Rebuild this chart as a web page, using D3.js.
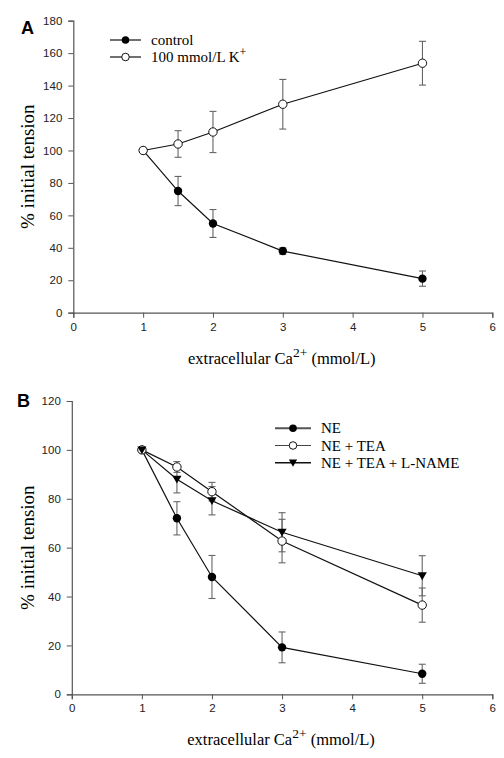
<!DOCTYPE html>
<html><head><meta charset="utf-8">
<script src="https://cdn.jsdelivr.net/npm/d3@7"></script>
<style>body{margin:0;background:#fff}svg{display:block}</style>
</head><body>
<svg id="c" width="504" height="758"></svg>
<script>
// Panel A data
const xA = [1, 1.5, 2, 3, 5];
const controlA = [100, 75, 55, 38, 21];
const controlErrA = [0, 9, 8.6, 2, 4.7];
const kA = [100, 104, 111.4, 128.5, 153.8];
const kErrA = [0, 8.2, 12.7, 15.3, 13.5];
// Panel B data
const xB = [1, 1.5, 2, 3, 5];
const neB = [100, 72, 48, 19.2, 8.4];
const neErrB = [0, 6.8, 8.8, 6.3, 3.9];
const teaB = [100, 93, 82.9, 62.7, 36.5];
const teaErrB = [0, 2.2, 3.8, 8.9, 7];
const lnameB = [100, 88, 79.2, 66.3, 48.5];
const lnameErrB = [0, 5.6, 5.8, 8, 8.2];
const xTicks = [0, 1, 2, 3, 4, 5, 6];
const yTicksA = [0, 20, 40, 60, 80, 100, 120, 140, 160, 180];
const yTicksB = [0, 20, 40, 60, 80, 100, 120];

const svg = d3.select("#c");
const AXC = "#555";

function panel(cfg) {
  const g = svg.append("g");
  const x = d3.scaleLinear().domain([0, 6]).range([cfg.x0, cfg.x1]);
  const y = d3.scaleLinear().domain([0, cfg.ymax]).range([cfg.y0, cfg.y1]);
  const xa = g.append("g").attr("transform", `translate(0,${cfg.y0})`)
    .call(d3.axisBottom(x).tickValues(xTicks).tickSize(5).tickPadding(5).tickFormat(d3.format("d")));
  const ya = g.append("g").attr("transform", `translate(${cfg.x0},0)`)
    .call(d3.axisLeft(y).tickValues(cfg.yTicks).tickSize(5).tickPadding(6).tickFormat(d3.format("d")));
  [xa, ya].forEach(a => {
    a.selectAll("path").attr("stroke", AXC).attr("stroke-width", 1.2);
    a.selectAll("line").attr("stroke", AXC);
    a.selectAll("text").attr("fill", "#222").style("font-family", "Liberation Sans, Arial, sans-serif").style("font-size", "11.5px");
  });
  // panel letter
  g.append("text").attr("x", cfg.lx).attr("y", cfg.ly).text(cfg.letter)
    .style("font-family", "Liberation Sans, Arial, sans-serif").style("font-weight", "bold").style("font-size", "18px");
  // y title
  g.append("text").attr("transform", `translate(34,${(cfg.y0 + cfg.y1) / 2}) rotate(-90)`)
    .attr("text-anchor", "middle").style("font-family", "Liberation Serif, Times New Roman, serif").style("font-size", "19px")
    .text("% initial tension");
  // x title
  const t = g.append("text").attr("x", (cfg.x0 + cfg.x1) / 2 - 1).attr("y", cfg.y0 + 51).attr("text-anchor", "middle")
    .style("font-family", "Liberation Serif, Times New Roman, serif").style("font-size", "16.5px");
  t.append("tspan").text("extracellular Ca");
  t.append("tspan").attr("dy", -7).style("font-size", "13.5px").text("2+");
  t.append("tspan").attr("dy", 7).text(" (mmol/L)");

  const line = d3.line().x(d => x(d[0])).y(d => y(d[1]));
  cfg.series.forEach(s => {
    const pts = s.xs.map((v, i) => [v, s.ys[i], s.errs[i]]);
    // error bars
    const eb = g.append("g").attr("stroke", "#666").attr("stroke-width", 1.1);
    pts.filter(p => p[2] > 0).forEach(p => {
      eb.append("line").attr("x1", x(p[0])).attr("x2", x(p[0])).attr("y1", y(p[1] - p[2])).attr("y2", y(p[1] + p[2]));
      [p[1] - p[2], p[1] + p[2]].forEach(v => eb.append("line").attr("x1", x(p[0]) - 3.5).attr("x2", x(p[0]) + 3.5).attr("y1", y(v)).attr("y2", y(v)));
    });
    g.append("path").datum(pts).attr("d", line).attr("fill", "none").attr("stroke", "#111").attr("stroke-width", 1.2);
  });
  cfg.series.forEach(s => {
    const pts = s.xs.map((v, i) => [v, s.ys[i]]);
    drawMarkers(g, pts.map(p => [x(p[0]), y(p[1])]), s.marker);
  });
  // legend
  cfg.series.forEach((s, i) => {
    const ly = cfg.legY + i * cfg.legDy;
    g.append("line").attr("x1", cfg.legX).attr("x2", cfg.legX + cfg.legW).attr("y1", ly).attr("y2", ly)
      .attr("stroke", s.legStroke || "#111").attr("stroke-width", s.legWidth || 1.2);
    drawMarkers(g, [[cfg.legX + cfg.legW / 2, ly]], s.marker, 0.9);
    const lt = g.append("text").attr("x", cfg.legX + cfg.legW + 10).attr("y", ly + 5)
      .style("font-family", "Liberation Serif, Times New Roman, serif").style("font-size", "15px");
    if (s.sup) {
      lt.append("tspan").text(s.name);
      lt.append("tspan").attr("dy", -6).style("font-size", "12px").text(s.sup);
    } else lt.text(s.name);
  });
}

function drawMarkers(g, pts, type, k = 1) {
  pts.forEach(([px, py]) => {
    if (type === "filled") g.append("circle").attr("cx", px).attr("cy", py).attr("r", 4.2 * k).attr("fill", "#000");
    else if (type === "open") g.append("circle").attr("cx", px).attr("cy", py).attr("r", 4.2 * k).attr("fill", "#fff").attr("stroke", "#111").attr("stroke-width", 1);
    else if (type === "tri") {
      const s = 4.6 * k;
      g.append("path").attr("d", `M${px - s},${py - s * 0.75}L${px + s},${py - s * 0.75}L${px},${py + s * 0.95}Z`).attr("fill", "#000");
    }
  });
}

panel({
  letter: "A", lx: 21, ly: 34,
  x0: 73.3, x1: 492.3, y0: 312.7, y1: 20.7, ymax: 180, yTicks: yTicksA,
  legX: 110, legW: 31, legY: 40, legDy: 17,
  series: [
    { name: "control", xs: xA, ys: controlA, errs: controlErrA, marker: "filled" },
    { name: "100 mmol/L K", sup: "+", xs: xA, ys: kA, errs: kErrA, marker: "open" }
  ]
});
panel({
  letter: "B", lx: 17, ly: 407,
  x0: 71.8, x1: 492.3, y0: 694.3, y1: 401, ymax: 120, yTicks: yTicksB,
  legX: 275, legW: 36, legY: 428.3, legDy: 17.2,
  series: [
    { name: "NE", xs: xB, ys: neB, errs: neErrB, marker: "filled", legStroke: "#555", legWidth: 2 },
    { name: "NE + TEA", xs: xB, ys: teaB, errs: teaErrB, marker: "open", legStroke: "#444", legWidth: 1 },
    { name: "NE + TEA + L-NAME", xs: xB, ys: lnameB, errs: lnameErrB, marker: "tri", legWidth: 1.6 }
  ]
});
</script>
</body></html>
